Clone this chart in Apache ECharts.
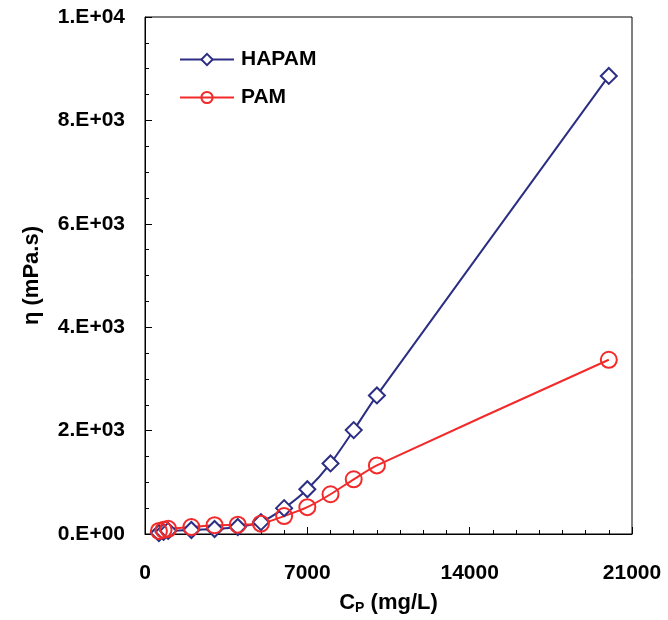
<!DOCTYPE html>
<html>
<head>
<meta charset="utf-8">
<script src="https://cdn.jsdelivr.net/npm/echarts@6/dist/echarts.min.js"></script>
<style>
html,body{margin:0;padding:0;background:#fff;}
#chart{width:668px;height:620px;}
</style>
</head>
<body>
<div id="chart"></div>
<script>
// Data
const cpValues = [600, 800, 1000, 2000, 3000, 4000, 5000, 6000, 7000, 8000, 9000, 10000, 20000];
const hapamEta = [20, 40, 60, 77, 96, 135, 230, 500, 865, 1365, 2010, 2680, 8860];
const pamEta   = [60, 80, 100, 135, 170, 180, 200, 346, 519, 769, 1058, 1327, 3370];
const xTicks = [0, 7000, 14000, 21000];
const yTicks = [0, 2000, 4000, 6000, 8000, 10000];
const seriesNames = ['HAPAM', 'PAM'];

function sci(v) {
  if (v === 0) return '0.E+00';
  const e = Math.floor(Math.log10(Math.abs(v)) + 1e-9);
  const m = Math.round(v / Math.pow(10, e));
  return m + '.E+' + (e < 10 ? '0' + e : '' + e);
}

const chart = echarts.init(document.getElementById('chart'), null, {renderer: 'canvas'});
const font = '"Liberation Sans", Arial, sans-serif';
const navy = '#2b2e83';
const red = '#f22a2a';

chart.setOption({
  animation: false,
  backgroundColor: '#fff',
  grid: {left: 145, right: 36, top: 17, bottom: 83, show: true, borderColor: '#000', borderWidth: 1, backgroundColor: 'transparent'},
  legend: {
    left: 174, top: 44, orient: 'vertical', itemGap: 17,
    itemWidth: 54, itemHeight: 14,
    textStyle: {fontFamily: font, fontWeight: 'bold', fontSize: 21, color: '#000', padding: [0,0,0,2]},
    data: seriesNames
  },
  xAxis: {
    type: 'value', min: xTicks[0], max: xTicks[xTicks.length - 1], interval: 7000,
    name: 'C{sub|P} (mg/L)', nameLocation: 'middle', nameGap: 57,
    nameTextStyle: {fontFamily: font, fontWeight: 'bold', fontSize: 22, color: '#000',
      rich: {sub: {fontFamily: font, fontWeight: 'bold', fontSize: 14, color: '#000', verticalAlign: 'bottom', padding: [10,0,0,0]}}},
    axisLine: {show: true, lineStyle: {color: '#000', width: 1}},
    axisTick: {show: true, inside: true, length: 7, lineStyle: {color: '#000'}},
    minorTick: {show: true, splitNumber: 7, length: 4, lineStyle: {color: '#000'}},
    splitLine: {show: false},
    axisLabel: {fontFamily: font, fontWeight: 'bold', fontSize: 21, color: '#000', margin: 29, formatter: v => String(v)}
  },
  yAxis: {
    type: 'value', min: yTicks[0], max: yTicks[yTicks.length - 1], interval: 2000,
    name: 'η (mPa.s)', nameLocation: 'middle', nameGap: 102, nameRotate: 90,
    nameTextStyle: {fontFamily: font, fontWeight: 'bold', fontSize: 22, color: '#000'},
    axisLine: {show: true, lineStyle: {color: '#000', width: 1}},
    axisTick: {show: true, inside: true, length: 7, lineStyle: {color: '#000'}},
    minorTick: {show: true, splitNumber: 4, length: 4, lineStyle: {color: '#000'}},
    splitLine: {show: false},
    axisLabel: {fontFamily: font, fontWeight: 'bold', fontSize: 21, color: '#000', margin: 20, formatter: sci}
  },
  series: [
    {
      name: seriesNames[0], type: 'line', smooth: 0.25,
      data: cpValues.map((x, i) => [x, hapamEta[i]]),
      symbol: 'diamond', symbolSize: 16, showAllSymbol: true,
      lineStyle: {color: navy, width: 2},
      itemStyle: {color: '#fff', borderColor: navy, borderWidth: 2}
    },
    {
      name: seriesNames[1], type: 'line', smooth: 0.25,
      data: cpValues.map((x, i) => [x, pamEta[i]]),
      symbol: 'circle', symbolSize: 16, showAllSymbol: true,
      lineStyle: {color: red, width: 2},
      itemStyle: {color: 'rgba(255,255,255,0)', borderColor: red, borderWidth: 2}
    }
  ]
});
</script>
</body>
</html>
